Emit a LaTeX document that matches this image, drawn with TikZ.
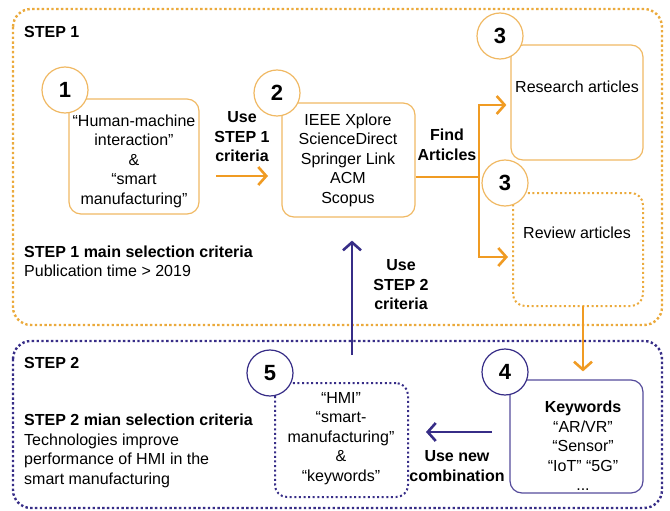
\documentclass[tikz,border=0pt]{standalone}
\usepackage{fontspec}
\setmainfont{Liberation Sans}
\usetikzlibrary{arrows.meta}
\definecolor{org}{RGB}{240,155,35}
\definecolor{orgdot}{RGB}{235,170,60}
\definecolor{orgbox}{RGB}{240,185,100}
\definecolor{pur}{RGB}{55,45,135}
\definecolor{purbox}{RGB}{85,75,155}
\tikzset{
  txt/.style={font=\fontsize{16}{19.5}\selectfont, inner sep=0pt, align=center},
  btxt/.style={txt, font=\fontsize{16}{19.5}\selectfont\bfseries},
  numc/.style={circle, draw=#1, line width=1.2pt, fill=white, minimum size=46pt, inner sep=0pt,
               font=\fontsize{22}{22}\selectfont\bfseries},
  sbox/.style={draw=#1, line width=1.2pt, rounded corners=12pt, inner sep=0pt},
  dbox/.style={draw=#1, line width=2pt, dash pattern=on 2pt off 2.6pt, rounded corners=12pt, inner sep=0pt},
  outer/.style={draw=#1, line width=2.4pt, dash pattern=on 2.4pt off 2.4pt, rounded corners=18pt},
  oarr/.style={draw=org, line width=2.6pt, -{Straight Barb[length=8pt,width=18pt,line width=2.6pt]}},
  oline/.style={draw=org, line width=2.6pt},
  parr/.style={draw=pur, line width=2.6pt, -{Straight Barb[length=8pt,width=18pt,line width=2.6pt]}},
}
\begin{document}
\begin{tikzpicture}[x=1pt,y=-1pt]
\useasboundingbox (0,0) rectangle (670,511);
% outer step frames
\draw[outer=orgdot] (13,9) rectangle (662,325);
\draw[outer=pur] (13,341) rectangle (662,508);
\node[btxt, anchor=west] (s1) at (24,32) {STEP 1};
\node[btxt, anchor=west] (s2) at (24,363) {STEP 2};

% boxes
\node[sbox=orgbox, minimum width=130pt, minimum height=115pt] (box1) at (134,156.5) {};
\node[sbox=orgbox, minimum width=133pt, minimum height=114pt] (box2) at (348.5,160) {};
\node[sbox=orgbox, minimum width=132pt, minimum height=115pt] (box3a) at (577,102.5) {};
\node[dbox=orgdot, minimum width=130pt, minimum height=113pt] (box3b) at (578,249.5) {};
\node[sbox=purbox, minimum width=133pt, minimum height=113pt] (box4) at (576.5,436.5) {};
\node[dbox=pur, minimum width=133pt, minimum height=114pt] (box5) at (341.5,440) {};

% box texts
\node[txt] (t1) at (134,161) {“Human-machine\\interaction”\\\&\\“smart\\manufacturing”};
\node[txt] (t2) at (348,160) {IEEE Xplore\\ScienceDirect\\Springer Link\\ACM\\Scopus};
\node[txt] (t3a) at (577,87) {Research articles};
\node[txt] (t3b) at (577,233) {Review articles};
\node[txt] (t4) at (583,446) {\textbf{Keywords}\\“AR/VR”\\“Sensor”\\“IoT” “5G”\\...};
\node[txt] (t5) at (341,438.5) {“HMI”\\“smart-\\manufacturing”\\\&\\“keywords”};

% number circles
\node[numc=orgbox] (c1) at (65,90) {1};
\node[numc=orgbox] (c2) at (277,93) {2};
\node[numc=orgbox] (c3a) at (500,36) {3};
\node[numc=orgbox] (c3b) at (505,183) {3};
\node[numc=pur] (c4) at (505,372) {4};
\node[numc=pur] (c5) at (270,373) {5};

% labels
\node[btxt] (l1) at (242,137) {Use\\STEP 1\\criteria};
\node[btxt] (l2) at (447,145) {Find\\Articles};
\node[btxt] (l3) at (401,285) {Use\\STEP 2\\criteria};
\node[btxt] (l4) at (457,466) {Use new\\combination};
\node[txt, anchor=west, align=left] (crit1) at (24,261.5) {\textbf{STEP 1 main selection criteria}\\Publication time > 2019};
\node[txt, anchor=west, align=left] (crit2) at (24,451) {\textbf{STEP 2 mian selection criteria}\\Technologies improve\\performance of HMI in the\\smart manufacturing};

% connectors
\coordinate (a1s) at (216,176);
\coordinate (a1e) at (268,176);
\draw[oarr] (a1s) -- (a1e);

\coordinate (fj) at (479,177);
\coordinate (ft) at (479,105);
\coordinate (fb) at (479,257);
\draw[oarr, shorten >=4pt] (box2.east |- fj) -- (fj) |- (box3a.west |- ft);
\draw[oarr, shorten >=4pt] (fj) |- (box3b.west |- fb);

\coordinate (dtop) at (583,306);
\draw[oarr, shorten >=8pt] (dtop) -- (dtop |- box4.north);

\coordinate (ul) at (352,355);
\draw[parr, shorten >=23pt] (ul) -- (ul |- box2.south);

\coordinate (nl) at (492,432);
\draw[parr, shorten >=17pt] (nl) -- (nl -| box5.east);
\end{tikzpicture}
\end{document}
